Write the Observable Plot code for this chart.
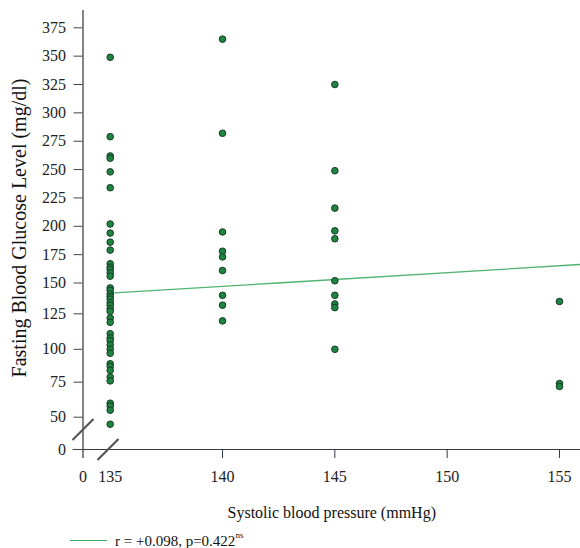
<!DOCTYPE html>
<html><head><meta charset="utf-8">
<script src="https://cdn.jsdelivr.net/npm/d3@7"></script>
<script src="https://cdn.jsdelivr.net/npm/@observablehq/plot@0.6"></script>
<style>
html,body{margin:0;padding:0;background:#fff;}
#chart{width:580px;height:548px;position:relative;overflow:hidden;font-family:"Liberation Serif",serif;}
.legend{position:absolute;left:70px;top:531px;height:19px;display:flex;align-items:center;font-size:15px;color:#111;white-space:nowrap;}
.legend .sw{width:37px;height:1px;background:#3fae62;margin-right:8px;}
.legend sup{font-size:9px;position:relative;top:-2px;}
</style></head><body><div id="chart"></div>
<script>
// ---- data ----
const glucoseAt135 = [349, 279, 262, 260, 248, 234, 202, 194, 186, 179, 167, 164, 162, 159, 156,
  146, 144, 141, 139, 137, 134, 132, 129, 127, 122, 119, 111, 108, 106, 103, 100, 97,
  89, 87, 84, 79, 76, 60, 58, 55, 45];
const glucoseAt140 = [365, 282, 195, 178, 173, 161, 140, 132, 120];
const glucoseAt145 = [325, 249, 216, 196, 189, 152, 140, 133, 130, 100];
const glucoseAt155 = [135, 74, 72];
const pressureGroups = [135, 140, 145, 155];
const xTicks = [0, 135, 140, 145, 150, 155];
const yTicks = [0, 50, 75, 100, 125, 150, 175, 200, 225, 250, 275, 300, 325, 350, 375];
const fitPressure = [135, 142.45, 155.9];
const fitGlucose = [141.7, 150, 166.3];
const axisBreakX = [0, 124];
const axisBreakY = [41.2, 0];
const yLabel = "Fasting Blood Glucose Level (mg/dl)";
const xLabel = "Systolic blood pressure (mmHg)";

const groups = [glucoseAt135, glucoseAt140, glucoseAt145, glucoseAt155];
const points = groups.flatMap((g, i) => g.map(v => ({sbp: pressureGroups[i], fbg: v})));
const fit = fitPressure.map((p, i) => ({sbp: p, fbg: fitGlucose[i]}));
const breaks = axisBreakX.map((x, i) => ({sbp: x, fbg: axisBreakY[i]}));

const slash = {draw(ctx, size) { const r = Math.sqrt(size / Math.PI); ctx.moveTo(-r, r); ctx.lineTo(r, -r); }};

const W = 580, H = 530;
const chart = Plot.plot({
  width: W, height: H,
  marginLeft: 82.5, marginRight: 0, marginTop: 10, marginBottom: 81,
  style: {fontFamily: "'Liberation Serif', serif", background: "white", color: "#222", overflow: "visible"},
  x: {type: "linear", domain: [0, 135, 155.9], range: [82.5, 109.7, 579.2]},
  y: {type: "linear", domain: [0, 40, 50, 75, 100, 125, 150, 375],
      range: [449, 430.7, 416.7, 381.7, 348.8, 313.3, 282.5, 27.3]},
  marks: [
    Plot.ruleX([0], {stroke: "#333", strokeWidth: 1.2, insetBottom: -9}),
    Plot.ruleY([0], {stroke: "#333a48", strokeWidth: 1.2, insetLeft: -10}),
    Plot.axisY({ticks: yTicks, tickSize: 9, tickPadding: 8, fontSize: 16, label: null, stroke: "#444"}),
    Plot.axisX({ticks: xTicks.filter(t => t >= 140), tickSize: 9, tickPadding: 12, fontSize: 16, label: null, stroke: "#333a48"}),
    Plot.axisX({ticks: xTicks.filter(t => t < 140), tickSize: 0, tickPadding: 21, fontSize: 16, label: null}),
    Plot.text([yLabel], {frameAnchor: "left", textAnchor: "middle", rotate: -90, dx: -63, dy: -2, fontSize: 20, fill: "#111"}),
    Plot.text([xLabel], {frameAnchor: "bottom", dy: 68, fontSize: 16, fill: "#111"}),
    Plot.dot(breaks, {x: "sbp", y: "fbg", symbol: slash, r: 10.5, stroke: "#555", strokeWidth: 2.2, fill: "none"}),
    Plot.line(fit, {x: "sbp", y: "fbg", stroke: "#4fb36f", strokeWidth: 1.3}),
    Plot.dot(points, {x: "sbp", y: "fbg", r: 3.3, fill: "#1f8440", stroke: "#17392a", strokeWidth: 1})
  ]
});
const root = document.getElementById("chart");
root.appendChild(chart);
const lg = document.createElement("div");
lg.className = "legend";
lg.innerHTML = '<span class="sw"></span><span>r = +0.098, p=0.422<sup>ns</sup></span>';
root.appendChild(lg);
</script></body></html>
